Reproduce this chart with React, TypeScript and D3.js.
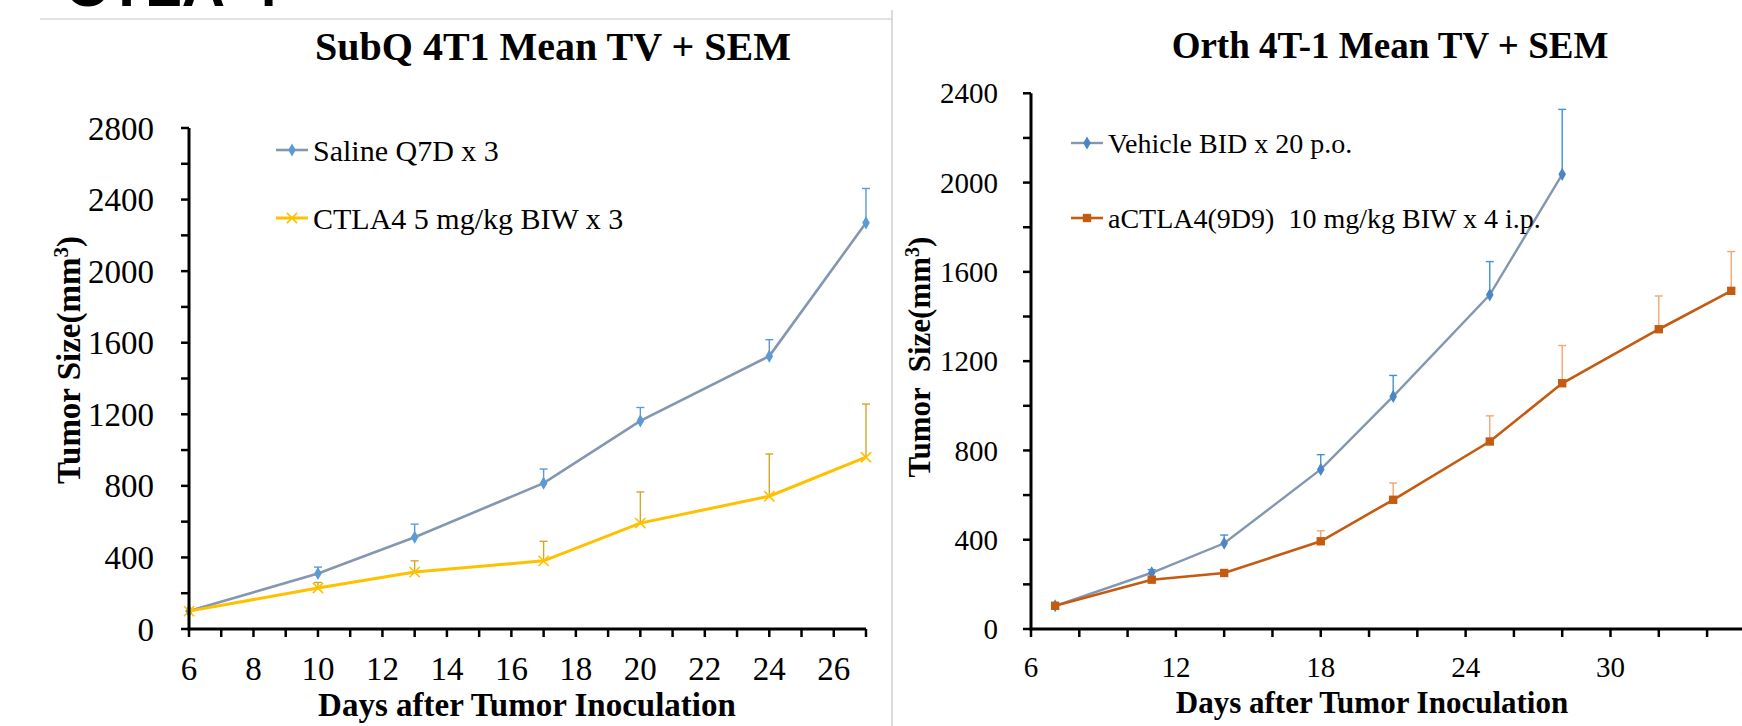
import * as d3 from 'd3'

// SubQ 4T1 panel
const subqDays = [6, 10, 13, 17, 20, 24, 27]
const salineMean = [100, 310, 513, 815, 1163, 1525, 2270]
const salineSem = [0, 36, 73, 79, 75, 92, 192]
const ctla4Mean = [100, 229, 318, 381, 592, 742, 960]
const ctla4Sem = [0, 31, 63, 109, 174, 236, 297]

// Orth 4T-1 panel
const vehicleDays = [7, 11, 14, 18, 21, 25, 28]
const vehicleMean = [104, 252, 384, 715, 1042, 1497, 2037]
const vehicleSem = [0, 14, 37, 66, 94, 149, 291]
const actlaDays = [7, 11, 14, 18, 21, 25, 28, 32, 35]
const actlaMean = [104, 221, 251, 393, 579, 840, 1101, 1343, 1515]
const actlaSem = [0, 0, 0, 47, 75, 115, 169, 149, 176]

const leftYTicks = d3.range(0, 2801, 200)
const leftXTicks = d3.range(6, 28, 1)
const rightYTicks = d3.range(0, 2401, 200)
const rightXTicks = d3.range(6, 37, 2)

const serif = '"Liberation Serif", "Times New Roman", serif'

type Series = {
    days: number[]
    mean: number[]
    sem: number[]
    line: string
    marker: string
    bar: string
    shape: 'diamond' | 'times' | 'square'
    width: number
}

function Marker({ x, y, s }: { x: number; y: number; s: Series }) {
    if (s.shape === 'times') {
        const p = d3.symbol(d3.symbolTimes, 70)()
        return <path d={p ?? ''} transform={`translate(${x},${y})`} fill="none" stroke={s.marker} strokeWidth={1.6} />
    }
    const type = s.shape === 'diamond' ? d3.symbolDiamond : d3.symbolSquare
    const size = s.shape === 'diamond' ? 50 : 70
    const p = d3.symbol(type, size)()
    return <path d={p ?? ''} transform={`translate(${x},${y})`} fill={s.marker} />
}

function Panel(props: {
    x: d3.ScaleLinear<number, number>
    y: d3.ScaleLinear<number, number>
    xTicks: number[]
    yTicks: number[]
    xLabelEvery: number
    yLabelEvery: number
    xEnd: number
    tickFont: number
    xLabelY: number
    yLabelX: number
    series: Series[]
}) {
    const { x, y, series } = props
    const x0 = x.range()[0]
    const y0 = y(0)
    return (
        <g>
            {series.map((s, k) => {
                const pts = s.days.map((d, i) => [x(d), y(s.mean[i])] as [number, number])
                const line = d3.line()(pts)
                return (
                    <g key={k}>
                        {s.days.map((d, i) =>
                            s.sem[i] > 0 ? (
                                <g key={i} stroke={s.bar} strokeWidth={1.4}>
                                    <line x1={x(d)} x2={x(d)} y1={y(s.mean[i])} y2={y(s.mean[i] + s.sem[i])} />
                                    <line x1={x(d) - 4} x2={x(d) + 4} y1={y(s.mean[i] + s.sem[i])} y2={y(s.mean[i] + s.sem[i])} />
                                </g>
                            ) : null
                        )}
                        <path d={line ?? ''} fill="none" stroke={s.line} strokeWidth={s.width} />
                        {pts.map((p, i) => (
                            <Marker key={i} x={p[0]} y={p[1]} s={s} />
                        ))}
                    </g>
                )
            })}
            {/* axes */}
            <line x1={x0} x2={x0} y1={y.range()[1]} y2={y0 + 1.5} stroke="#000" strokeWidth={3} />
            <line x1={x0 - 1.5} x2={props.xEnd} y1={y0} y2={y0} stroke="#000" strokeWidth={3} />
            {props.yTicks.map((t) => (
                <line key={t} x1={x0 - 8} x2={x0} y1={y(t)} y2={y(t)} stroke="#000" strokeWidth={2.5} />
            ))}
            {props.xTicks.map((t) => (
                <line key={t} x1={x(t)} x2={x(t)} y1={y0} y2={y0 + 8} stroke="#000" strokeWidth={2.5} />
            ))}
            {props.yTicks
                .filter((t) => t % props.yLabelEvery === 0)
                .map((t) => (
                    <text key={t} x={props.yLabelX} y={y(t)} dy="0.35em" textAnchor="end" fontSize={props.tickFont} fontFamily={serif}>
                        {t}
                    </text>
                ))}
            {props.xTicks
                .filter((t) => (t - props.xTicks[0]) % props.xLabelEvery === 0)
                .map((t) => (
                    <text key={t} x={x(t)} y={props.xLabelY} textAnchor="middle" fontSize={props.tickFont} fontFamily={serif}>
                        {t}
                    </text>
                ))}
        </g>
    )
}

function LegendItem({ x, y, s, label, font }: { x: number; y: number; s: Series; label: string; font: number }) {
    return (
        <g>
            <line x1={x} x2={x + 32} y1={y} y2={y} stroke={s.line} strokeWidth={s.width} />
            <Marker x={x + 16} y={y} s={s} />
            <text x={x + 37} y={y} dy="0.35em" fontSize={font} fontFamily={serif} style={{ whiteSpace: 'pre' }}>
                {label}
            </text>
        </g>
    )
}

export default function App() {
    const xL = d3.scaleLinear().domain([6, 27]).range([189, 866])
    const yL = d3.scaleLinear().domain([0, 2800]).range([629, 128])
    const xR = d3.scaleLinear().domain([6, 30]).range([1031, 1610.5])
    const yR = d3.scaleLinear().domain([0, 2400]).range([629, 93.3])

    const saline: Series = { days: subqDays, mean: salineMean, sem: salineSem, line: '#8497B0', marker: '#5B9BD5', bar: '#5B9BD5', shape: 'diamond', width: 2.6 }
    const ctla4: Series = { days: subqDays, mean: ctla4Mean, sem: ctla4Sem, line: '#FFC000', marker: '#FFC000', bar: '#D6A626', shape: 'times', width: 3 }
    const vehicle: Series = { days: vehicleDays, mean: vehicleMean, sem: vehicleSem, line: '#8497B0', marker: '#4A86C5', bar: '#3F93D6', shape: 'diamond', width: 2.4 }
    const actla: Series = { days: actlaDays, mean: actlaMean, sem: actlaSem, line: '#C55A11', marker: '#C55A11', bar: '#F4A574', shape: 'square', width: 2.6 }

    return (
        <svg width={1742} height={726} style={{ display: 'block', background: '#fff' }}>
            <style>{`body{margin:0}`}</style>
            <text x={65} y={6} fontSize={60} fontWeight="bold" fontFamily='"Liberation Sans", Arial, sans-serif'>
                CTLA-4
            </text>
            <line x1={40} x2={892} y1={19} y2={19} stroke="#e2e2e2" strokeWidth={2} />
            <line x1={892} x2={892} y1={10} y2={726} stroke="#cfcfcf" strokeWidth={1.5} />

            <text x={553} y={60} textAnchor="middle" fontSize={40} fontWeight="bold" fontFamily={serif}>
                SubQ 4T1 Mean TV + SEM
            </text>
            <text x={1390} y={58} textAnchor="middle" fontSize={37} fontWeight="bold" fontFamily={serif}>
                Orth 4T-1 Mean TV + SEM
            </text>

            <Panel x={xL} y={yL} xTicks={leftXTicks} yTicks={leftYTicks} xLabelEvery={2} yLabelEvery={400} xEnd={866} tickFont={33} xLabelY={680} yLabelX={154} series={[saline, ctla4]} />
            <Panel x={xR} y={yR} xTicks={rightXTicks} yTicks={rightYTicks} xLabelEvery={6} yLabelEvery={400} xEnd={1760} tickFont={29} xLabelY={677} yLabelX={998} series={[vehicle, actla]} />

            <LegendItem x={276} y={150} s={saline} label="Saline Q7D x 3" font={30} />
            <LegendItem x={276} y={218} s={ctla4} label="CTLA4 5 mg/kg BIW x 3" font={30} />
            <LegendItem x={1071} y={143} s={vehicle} label="Vehicle BID x 20 p.o." font={28} />
            <LegendItem x={1071} y={218} s={actla} label="aCTLA4(9D9)  10 mg/kg BIW x 4 i.p." font={28} />

            <text transform="translate(80,360) rotate(-90)" textAnchor="middle" fontSize={33} fontWeight="bold" fontFamily={serif}>
                Tumor Size(mm<tspan baselineShift="super" fontSize={21}>3</tspan>)
            </text>
            <text transform="translate(930,357) rotate(-90)" textAnchor="middle" fontSize={31} fontWeight="bold" fontFamily={serif} style={{ whiteSpace: 'pre' }}>
                Tumor  Size(mm<tspan baselineShift="super" fontSize={20}>3</tspan>)
            </text>

            <text x={527} y={716} textAnchor="middle" fontSize={33} fontWeight="bold" fontFamily={serif}>
                Days after Tumor Inoculation
            </text>
            <text x={1372} y={713} textAnchor="middle" fontSize={31} fontWeight="bold" fontFamily={serif}>
                Days after Tumor Inoculation
            </text>
        </svg>
    )
}
